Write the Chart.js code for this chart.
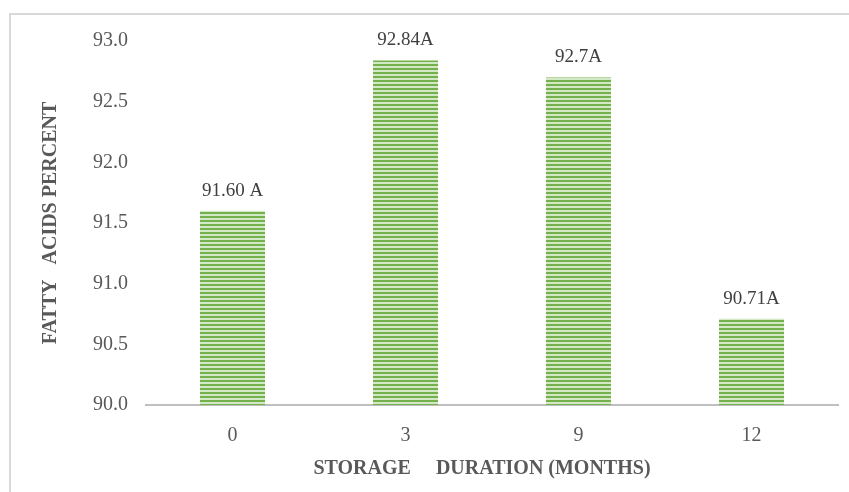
<!DOCTYPE html>
<html lang="en">
<head>
    <meta charset="UTF-8">
    <title>Fatty acids percent by storage duration</title>
    <style>
        * { margin: 0; padding: 0; box-sizing: border-box; }
        body { background: #fff; width: 849px; height: 492px; overflow: hidden; position: relative; }
        .frame {
            position: absolute;
            left: 9px; top: 13px;
            width: 860px; height: 500px;
            border-left: 2px solid #d9d9d9;
            border-top: 2px solid #d9d9d9;
        }
        canvas { position: absolute; left: 0; top: 0; }
    </style>
    <script src="https://cdn.jsdelivr.net/npm/chart.js"></script>
</head>
<body>
    <div class="frame"></div>
    <canvas id="chart" width="849" height="492"></canvas>

    <script>
        // Data
        const months = ['0', '3', '9', '12'];
        const fattyAcids = [91.60, 92.84, 92.70, 90.71];
        const barLabels = ['91.60 A', '92.84A', '92.7A', '90.71A'];
        const yTicks = { min: 90, max: 93, step: 0.5 };

        const serif = "'Liberation Serif', 'Times New Roman', serif";

        // striped green fill like the original
        function stripes() {
            const c = document.createElement('canvas');
            c.width = 4; c.height = 4;
            const g = c.getContext('2d');
            g.fillStyle = '#d3e8c4';
            g.fillRect(0, 0, 4, 4);
            g.fillStyle = '#74b04c';
            g.fillRect(0, 0, 4, 2);
            return g.createPattern(c, 'repeat');
        }

        const valueLabels = {
            id: 'valueLabels',
            afterDatasetsDraw(chart) {
                const ctx = chart.ctx;
                const meta = chart.getDatasetMeta(0);
                ctx.save();
                ctx.font = '19px ' + serif;
                ctx.fillStyle = '#404040';
                ctx.textAlign = 'center';
                ctx.textBaseline = 'alphabetic';
                meta.data.forEach((bar, i) => {
                    ctx.fillText(barLabels[i], bar.x, bar.y - 15);
                });
                ctx.restore();
            }
        };

        new Chart(document.getElementById('chart'), {
            type: 'bar',
            data: {
                labels: months,
                datasets: [{
                    data: fattyAcids,
                    backgroundColor: stripes(),
                    borderWidth: 0,
                    categoryPercentage: 1,
                    barPercentage: 0.376
                }]
            },
            options: {
                responsive: false,
                maintainAspectRatio: false,
                animation: false,
                devicePixelRatio: 1,
                layout: { padding: { top: 41, right: 11, left: 10, bottom: 0 } },
                plugins: {
                    legend: { display: false },
                    tooltip: { enabled: false }
                },
                scales: {
                    x: {
                        grid: { display: false },
                        border: { color: '#bfbfbf', width: 2 },
                        ticks: { color: '#595959', font: { family: serif, size: 20 }, padding: 11 },
                        title: {
                            display: true,
                            // trailing spaces nudge the centred title a little left, as in the original
                            text: 'STORAGE     DURATION (MONTHS)    ',
                            color: '#595959',
                            font: { family: serif, size: 20, weight: 'bold' },
                            padding: { top: 0, bottom: 11 }
                        },
                        afterFit: s => { s.height = 87; }
                    },
                    y: {
                        min: yTicks.min,
                        max: yTicks.max,
                        grid: { display: false },
                        border: { display: false },
                        ticks: {
                            stepSize: yTicks.step,
                            color: '#595959',
                            font: { family: serif, size: 20 },
                            padding: 10,
                            callback: v => v.toFixed(1)
                        },
                        title: {
                            display: true,
                            text: 'FATTY   ACIDS PERCENT',
                            color: '#595959',
                            font: { family: serif, size: 20, weight: 'bold' },
                            padding: { top: 29, bottom: 0 }
                        },
                        afterFit: s => { s.width = 136; }
                    }
                }
            },
            plugins: [valueLabels]
        });
    </script>
</body>
</html>
